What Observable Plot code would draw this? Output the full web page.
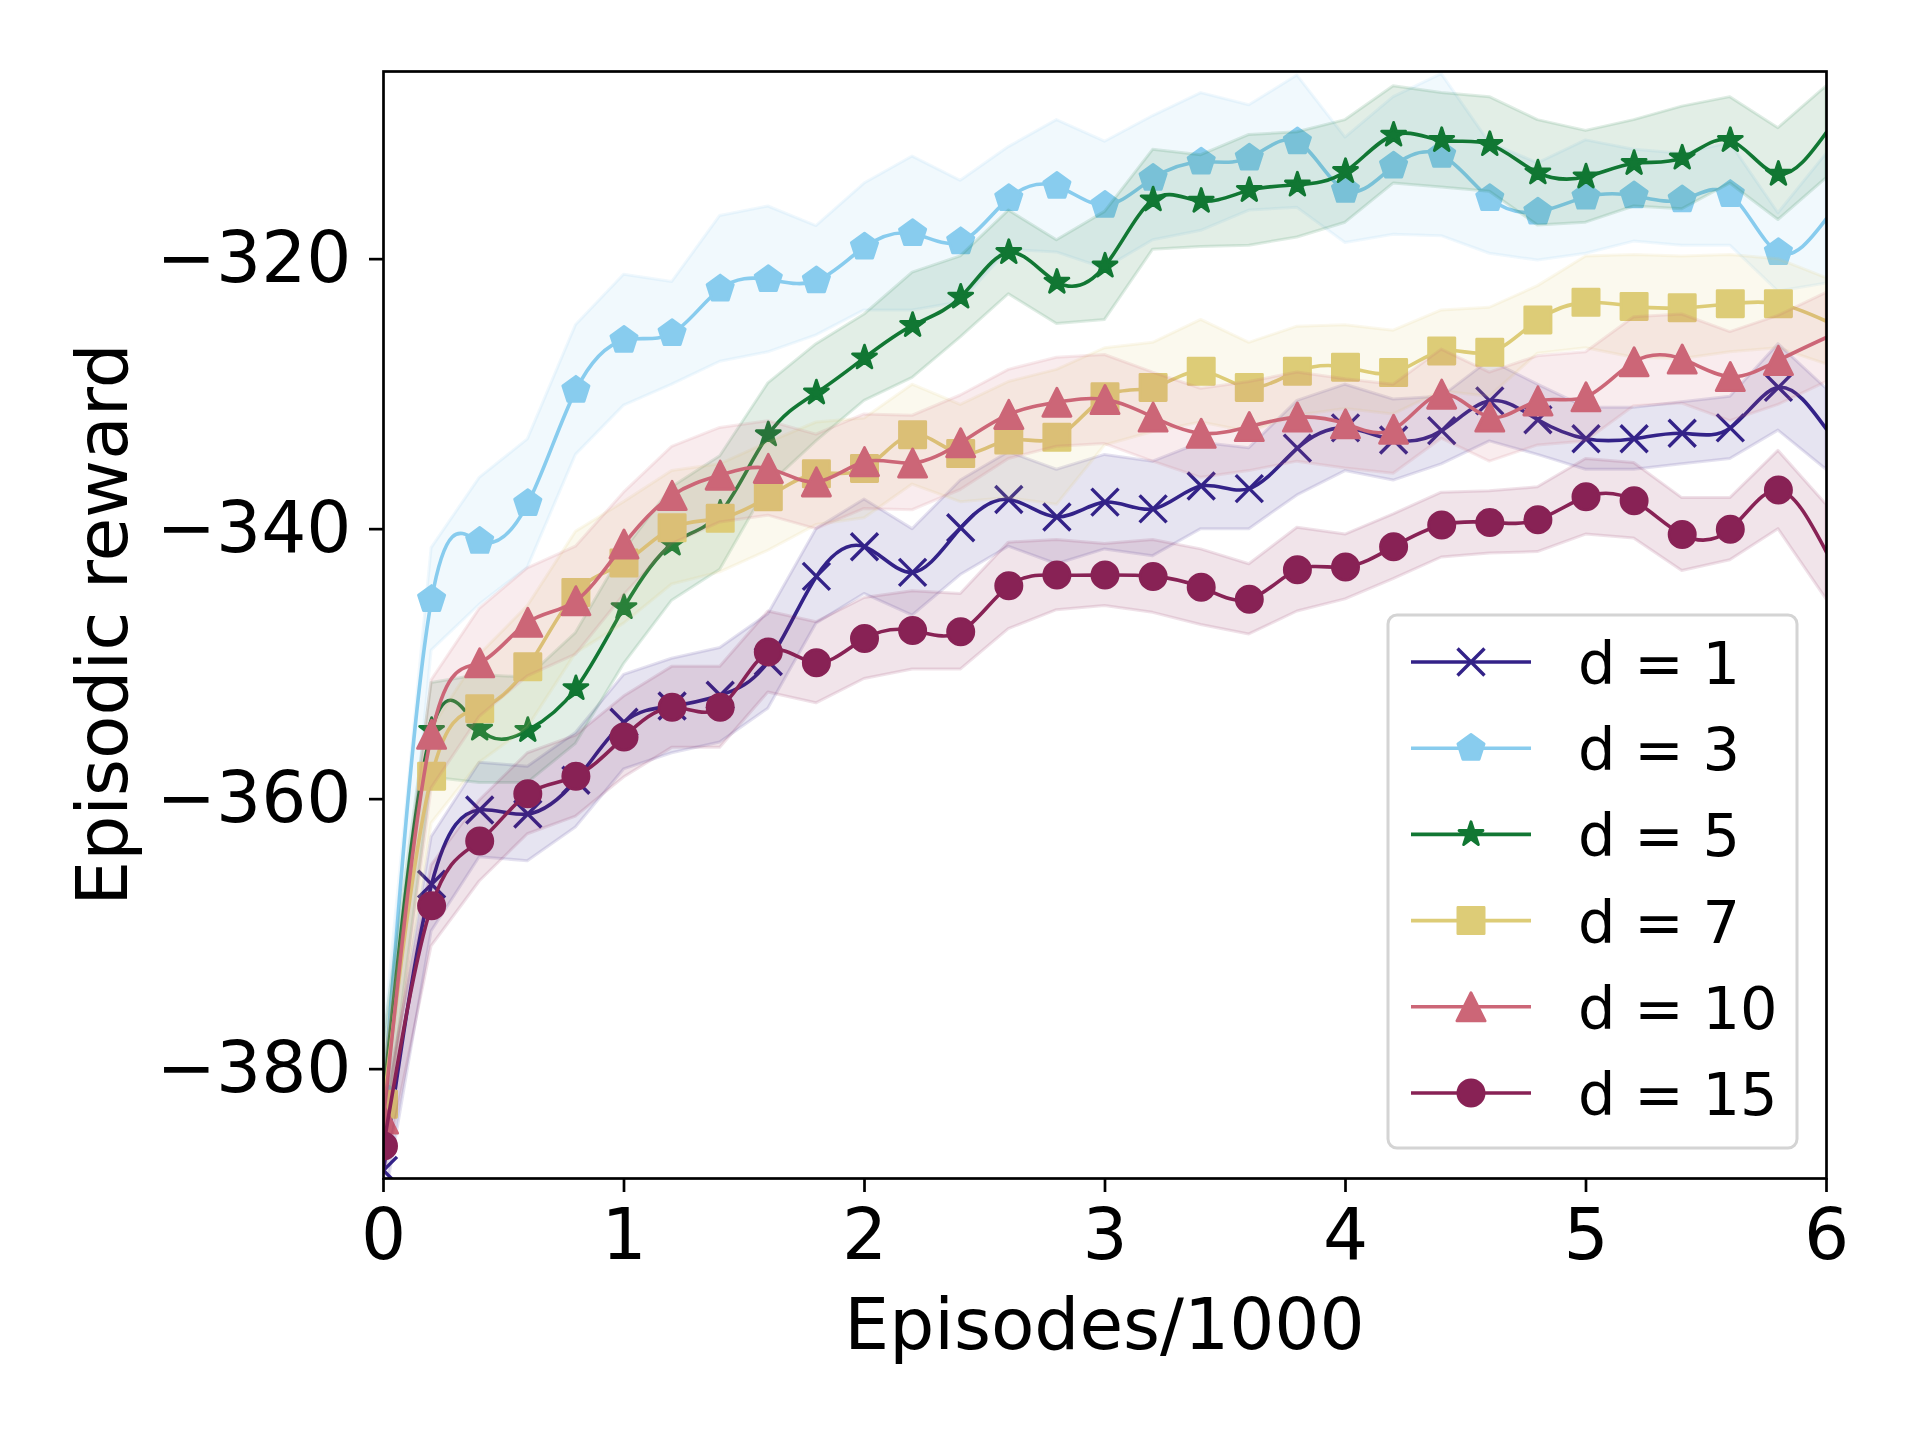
<!DOCTYPE html>
<html>
<head>
<meta charset="utf-8">
<script src="https://cdn.jsdelivr.net/npm/d3@7"></script>
<script src="https://cdn.jsdelivr.net/npm/@observablehq/plot@0.6"></script>
<style>
  html, body { margin: 0; padding: 0; background: white; }
  #chart { position: relative; width: 1920px; height: 1440px; }
</style>
</head>
<body>
<div id="chart"></div>
<script>
// ---- Data ----
const episodes = [0, 0.2, 0.4, 0.6, 0.8, 1.0, 1.2, 1.4, 1.6, 1.8, 2.0, 2.2, 2.4, 2.6, 2.8, 3.0,
  3.2, 3.4, 3.6, 3.8, 4.0, 4.2, 4.4, 4.6, 4.8, 5.0, 5.2, 5.4, 5.6, 5.8, 6.0];

const seriesNames = ["d = 1", "d = 3", "d = 5", "d = 7", "d = 10", "d = 15"];
const seriesColors = ["#332288", "#88CCEE", "#117733", "#DDCC77", "#CC6677", "#882255"];

const meanD1 = [-387.5, -366.3, -360.8, -361.1, -358.6, -354.3, -353.1, -352.3, -349.8, -343.5, -341.3,
  -343.2, -339.9, -337.8, -339.1, -338.0, -338.5, -336.8, -337.0, -334.0, -332.5,
  -333.4, -332.7, -330.5, -331.9, -333.3, -333.3, -332.9, -332.5, -329.5, -332.6];
const meanD3 = [-382.0, -345.2, -340.9, -338.1, -329.7, -326.0, -325.5, -322.2, -321.5, -321.6, -319.1,
  -318.1, -318.7, -315.5, -314.6, -316.0, -314.0, -312.8, -312.5, -311.3, -314.9,
  -313.1, -312.3, -315.5, -316.5, -315.4, -315.3, -315.6, -315.2, -319.5, -317.0];
const meanD5 = [-382.0, -354.9, -354.8, -354.9, -351.8, -345.8, -341.1, -338.8, -333.0, -329.9, -327.3,
  -324.9, -322.8, -319.5, -321.7, -320.5, -315.6, -315.7, -314.9, -314.5, -313.5,
  -310.8, -311.2, -311.5, -313.6, -313.9, -312.9, -312.5, -311.2, -313.7, -310.6];
const meanD7 = [-382.6, -358.3, -353.3, -350.2, -344.7, -342.5, -339.9, -339.2, -337.6, -335.9, -335.5,
  -333.0, -334.4, -333.4, -333.2, -330.2, -329.5, -328.3, -329.5, -328.3, -328.0,
  -328.4, -326.8, -326.9, -324.5, -323.2, -323.5, -323.6, -323.3, -323.3, -324.6];
const meanD10 = [-383.7, -355.2, -349.9, -346.9, -345.3, -341.1, -337.5, -336.0, -335.5, -336.5, -335.0,
  -335.1, -333.6, -331.5, -330.6, -330.4, -331.7, -332.9, -332.4, -331.7, -332.2,
  -332.6, -330.0, -331.7, -330.5, -330.2, -327.6, -327.4, -328.7, -327.5, -325.8];
const meanD15 = [-385.7, -367.9, -363.1, -359.6, -358.3, -355.4, -353.2, -353.2, -349.1, -349.9, -348.1,
  -347.5, -347.6, -344.2, -343.4, -343.4, -343.5, -344.3, -345.2, -343.0, -342.8,
  -341.3, -339.7, -339.5, -339.3, -337.6, -337.9, -340.4, -340.0, -337.1, -341.7];

const stdD1 = [3.0, 3.5, 3.5, 3.5, 3.5, 3.5, 3.5, 3.5, 3.5, 3.5, 3.5, 3.2, 3.5, 3.5, 3.5, 3.5,
  3.5, 3.2, 3.0, 3.5, 3.2, 3.0, 2.5, 3.0, 2.6, 2.3, 2.3, 2.3, 2.3, 3.2, 3.0];
const stdD3 = [4.0, 3.8, 4.7, 4.75, 4.8, 4.85, 3.8, 5.4, 5.4, 4.05, 4.7, 5.7, 4.5, 3.8, 4.9, 4.7,
  4.6, 5.1, 3.9, 4.9, 3.9, 5.1, 6.0, 4.1, 3.6, 4.2, 3.4, 3.4, 3.8, 2.9, 4.8];
const stdD5 = [4.0, 3.5, 4.0, 3.9, 4.1, 4.2, 4.2, 4.2, 3.8, 3.6, 3.2, 3.9, 3.0, 3.1, 3.1, 4.0,
  3.7, 3.4, 4.1, 3.9, 3.8, 3.6, 3.5, 3.5, 3.9, 3.4, 3.2, 3.8, 3.2, 3.4, 3.4];
const stdD7 = [3.0, 3.5, 4.0, 4.5, 4.5, 4.5, 4.2, 4.0, 4.0, 3.8, 3.7, 3.7, 3.6, 4.3, 5.0, 3.6,
  3.3, 3.8, 3.3, 3.3, 3.1, 3.1, 3.0, 3.3, 2.5, 3.4, 3.8, 3.8, 3.6, 3.3, 3.2];
const stdD10 = [3.0, 4.0, 4.0, 4.0, 4.0, 3.8, 3.6, 3.5, 3.5, 3.5, 3.5, 3.5, 3.5, 3.3, 3.3, 3.3,
  3.3, 3.3, 3.3, 3.3, 3.3, 3.3, 3.3, 3.3, 3.3, 3.3, 3.3, 3.3, 3.3, 3.3, 3.3];
const stdD15 = [2.5, 3.0, 3.0, 3.0, 3.0, 3.0, 3.0, 3.0, 3.0, 3.0, 3.0, 2.9, 2.8, 3.2, 2.6, 2.3,
  2.7, 2.8, 2.6, 3.1, 2.4, 2.4, 2.4, 2.3, 2.4, 2.8, 2.8, 2.7, 2.3, 2.9, 3.5];

const yTicks = [-380, -360, -340, -320];
const xTicks = [0, 1, 2, 3, 4, 5, 6];

// ---- Marker shapes (matplotlib-like) ----
const rOf = size => Math.sqrt(size / Math.PI);
const symTimes = { draw(c, s) { const r = rOf(s); c.moveTo(-r, -r); c.lineTo(r, r); c.moveTo(-r, r); c.lineTo(r, -r); } };
const symPentagon = { draw(c, s) { const r = rOf(s);
  for (let k = 0; k < 5; k++) { const a = -Math.PI / 2 + k * 2 * Math.PI / 5;
    const px = r * Math.cos(a), py = r * Math.sin(a); k ? c.lineTo(px, py) : c.moveTo(px, py); }
  c.closePath(); } };
const symStar = { draw(c, s) { const r = rOf(s), ri = r * 0.381966;
  for (let k = 0; k < 10; k++) { const a = -Math.PI / 2 + k * Math.PI / 5; const rr = k % 2 ? ri : r;
    const px = rr * Math.cos(a), py = rr * Math.sin(a); k ? c.lineTo(px, py) : c.moveTo(px, py); }
  c.closePath(); } };
const symSquare = { draw(c, s) { const r = rOf(s); c.moveTo(-r, -r); c.lineTo(r, -r); c.lineTo(r, r); c.lineTo(-r, r); c.closePath(); } };
const symTriangle = { draw(c, s) { const r = rOf(s); c.moveTo(0, -r); c.lineTo(r, r); c.lineTo(-r, r); c.closePath(); } };
const symCircle = { draw(c, s) { const r = rOf(s); c.moveTo(r, 0); c.arc(0, 0, r, 0, 2 * Math.PI); c.closePath(); } };

const means = [meanD1, meanD3, meanD5, meanD7, meanD10, meanD15];
const stds = [stdD1, stdD3, stdD5, stdD7, stdD10, stdD15];
const symbols = [symTimes, symPentagon, symStar, symSquare, symTriangle, symCircle];
const radii = [13.5, 13.8, 12.6, 13.1, 14.1, 13.1];
const stroked = [true, false, false, false, false, false];

const series = seriesNames.map((name, k) => ({
  name, color: seriesColors[k], symbol: symbols[k], r: radii[k], stroked: stroked[k],
  rows: episodes.map((x, i) => ({ x, y: means[k][i], lo: means[k][i] - stds[k][i], hi: means[k][i] + stds[k][i] }))
}));

const FONT = "DejaVu Sans, sans-serif";
const marks = [];
for (const s of series) {
  marks.push(Plot.areaY(s.rows, { x: "x", y1: "lo", y2: "hi", fill: s.color, fillOpacity: 0.12,
    stroke: s.color, strokeOpacity: 0.13, strokeWidth: 3, clip: true }));
  marks.push(Plot.line(s.rows, { x: "x", y: "y", stroke: s.color, strokeWidth: 3.6, curve: "natural", clip: true }));
  const pts = s.rows.slice(0, s.rows.length - 1);
  if (s.stroked) {
    marks.push(Plot.dot(pts, { x: "x", y: "y", symbol: s.symbol, r: s.r, fill: "none", stroke: s.color, strokeWidth: 3.4, clip: true }));
  } else {
    marks.push(Plot.dot(pts, { x: "x", y: "y", symbol: s.symbol, r: s.r, fill: s.color, stroke: s.color,
      strokeWidth: 2.8, strokeLinejoin: "round", clip: true }));
  }
}

const chart = Plot.plot({
  width: 1920, height: 1440,
  marginLeft: 383, marginRight: 94, marginTop: 71, marginBottom: 262,
  style: { fontFamily: FONT, fontSize: "71px", background: "white", color: "black", overflow: "visible" },
  x: { domain: [0, 6] },
  y: { domain: [-388.1, -306.1] },
  marks: [
    ...marks,
    Plot.axisY({ ticks: yTicks, tickSize: 14, tickPadding: 18, label: null, fontSize: 71, strokeWidth: 2.7 }),
    Plot.axisX({ ticks: xTicks, tickFormat: d3.format("d"), tickSize: 14, tickPadding: 16, label: null, fontSize: 71, strokeWidth: 2.7 }),
    Plot.frame({ stroke: "black", strokeWidth: 2.7 })
  ]
});

document.getElementById("chart").appendChild(chart);

// ---- Axis titles ----
const svg = d3.select(chart);
svg.append("text").attr("x", 1104.5).attr("y", 1349).attr("text-anchor", "middle")
  .attr("font-family", FONT).attr("font-size", 71).attr("fill", "black").text("Episodes/1000");
svg.append("text").attr("transform", "translate(127,624.5) rotate(-90)").attr("text-anchor", "middle")
  .attr("font-family", FONT).attr("font-size", 71).attr("fill", "black").text("Episodic reward");

// ---- Legend ----
const lg = svg.append("g");
lg.append("rect").attr("x", 1388).attr("y", 615).attr("width", 409).attr("height", 533).attr("rx", 9)
  .attr("fill", "white").attr("fill-opacity", 0.8).attr("stroke", "#d4d4d4").attr("stroke-width", 3);
series.forEach((s, i) => {
  const cy = 662 + i * 86.2;
  lg.append("line").attr("x1", 1411).attr("x2", 1531).attr("y1", cy).attr("y2", cy)
    .attr("stroke", s.color).attr("stroke-width", 3.6);
  const p = lg.append("path").attr("transform", `translate(1471,${cy})`)
    .attr("d", d3.symbol(s.symbol, Math.PI * s.r * s.r)());
  if (s.stroked) p.attr("fill", "none").attr("stroke", s.color).attr("stroke-width", 3.4);
  else p.attr("fill", s.color).attr("stroke", s.color).attr("stroke-width", 2.8).attr("stroke-linejoin", "round");
  lg.append("text").attr("x", 1578).attr("y", cy + 22).attr("text-anchor", "start")
    .attr("font-family", FONT).attr("font-size", 59).attr("fill", "black").text(s.name);
});
</script>
</body>
</html>
